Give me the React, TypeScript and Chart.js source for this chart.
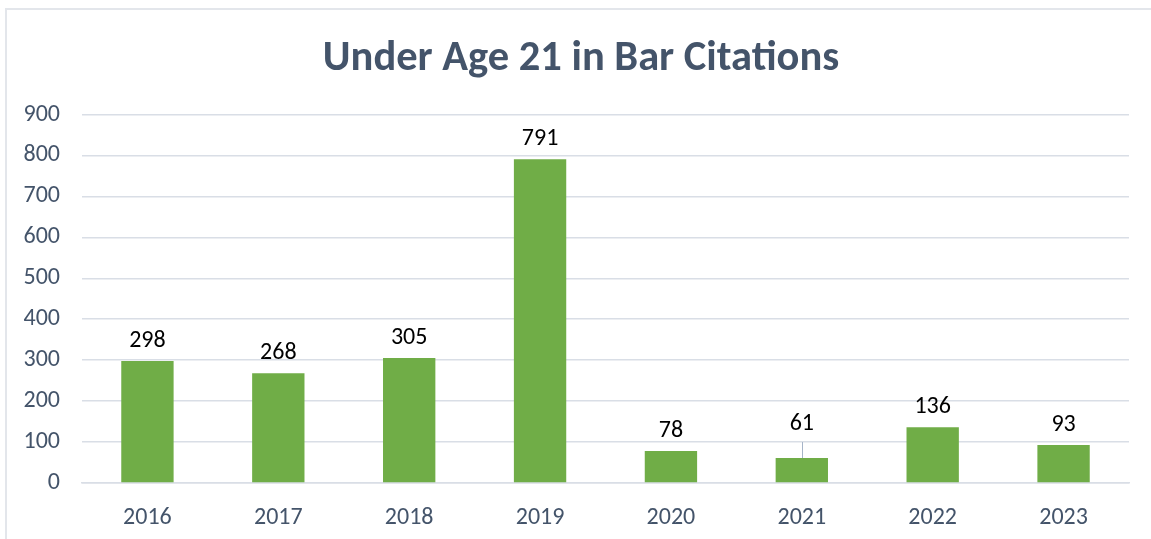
import React, { useEffect, useRef } from "react";
import { Chart, registerables } from "chart.js";

Chart.register(...registerables);

const categories = ["2016", "2017", "2018", "2019", "2020", "2021", "2022", "2023"];
const citations = [298, 268, 305, 791, 78, 61, 136, 93];
const yTicks = [0, 100, 200, 300, 400, 500, 600, 700, 800, 900];
const chartTitle = "Under Age 21 in Bar Citations";

const FONT = "Calibri, Carlito, Lato, sans-serif";
const TEXT2 = "#44546a";
const GREEN = "#70ad47";
const GRID = "#d9dee6";

// label lift (px) for labels that were moved up with a leader line
const labelLift: Record<number, number> = { 5: 14 };

const dataLabelPlugin = {
  id: "dataLabels",
  afterDatasetsDraw(chart: any) {
    const ctx = chart.ctx;
    const meta = chart.getDatasetMeta(0);
    ctx.save();
    ctx.font = `24px ${FONT}`;
    ctx.fillStyle = "#000000";
    ctx.textAlign = "center";
    ctx.textBaseline = "middle";
    meta.data.forEach((bar: any, i: number) => {
      const lift = labelLift[i] || 0;
      const ly = bar.y - 20 - lift;
      if (lift) {
        ctx.strokeStyle = "#a6b4c8";
        ctx.lineWidth = 1;
        ctx.beginPath();
        ctx.moveTo(Math.round(bar.x) + 0.5, ly + 18);
        ctx.lineTo(Math.round(bar.x) + 0.5, bar.y);
        ctx.stroke();
      }
      ctx.fillText(String(citations[i]), bar.x, ly);
    });
    ctx.restore();
  },
};

const titlePlugin = {
  id: "chartTitleText",
  afterDraw(chart: any) {
    const ctx = chart.ctx;
    ctx.save();
    ctx.font = `bold 42.5px ${FONT}`;
    ctx.fillStyle = TEXT2;
    ctx.textAlign = "center";
    ctx.textBaseline = "alphabetic";
    ctx.fillText(chartTitle, 581, 70);
    ctx.restore();
  },
};

export default function App() {
  const ref = useRef<HTMLCanvasElement | null>(null);
  useEffect(() => {
    document.body.style.margin = "0";
    const chart = new Chart(ref.current as HTMLCanvasElement, {
      type: "bar",
      data: {
        labels: categories,
        datasets: [
          {
            data: citations,
            backgroundColor: GREEN,
            borderWidth: 0,
            categoryPercentage: 1,
            barPercentage: 0.4,
          },
        ],
      },
      options: {
        animation: false,
        responsive: false,
        events: [],
        layout: { padding: { left: 0, right: 22, top: 114.5, bottom: 0 } },
        plugins: {
          legend: { display: false },
          tooltip: { enabled: false },
          title: { display: false },
        },
        scales: {
          x: {
            afterFit: (s: any) => {
              s.height = 56;
            },
            grid: { display: false, drawTicks: false },
            border: { color: GRID, width: 1.5 },
            ticks: { color: TEXT2, font: { family: FONT, size: 24 }, padding: 21 },
          },
          y: {
            min: 0,
            max: 900,
            afterBuildTicks: (s: any) => {
              s.ticks = yTicks.map((v) => ({ value: v }));
            },
            afterFit: (s: any) => {
              s.width = 82;
            },
            grid: { color: GRID, lineWidth: 1.5, drawTicks: false },
            border: { display: false },
            ticks: { color: TEXT2, font: { family: FONT, size: 24 }, padding: 22 },
          },
        },
      },
      plugins: [dataLabelPlugin, titlePlugin],
    });
    return () => chart.destroy();
  }, []);
  return (
    <div style={{ position: "relative", width: 1151, height: 539, background: "#fff" }}>
      <canvas ref={ref} width={1151} height={539} style={{ position: "absolute", left: 0, top: 0 }} />
      <div
        style={{
          position: "absolute",
          left: 5,
          top: 8,
          right: 0,
          bottom: 0,
          borderLeft: "2px solid #e3e6eb",
          borderTop: "2px solid #e3e6eb",
          pointerEvents: "none",
        }}
      />
    </div>
  );
}
